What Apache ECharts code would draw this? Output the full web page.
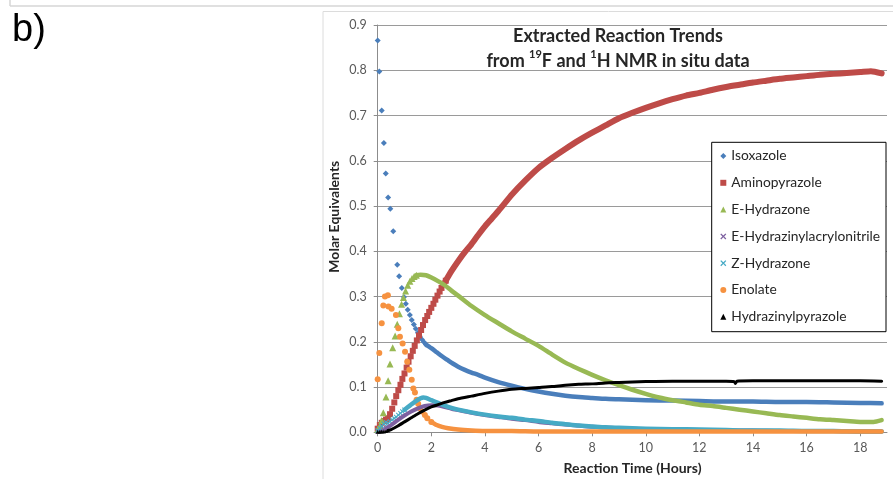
<!DOCTYPE html>
<html>
<head>
<meta charset="utf-8">
<script src="https://cdn.jsdelivr.net/npm/echarts@6/dist/echarts.min.js"></script>
<style>
  html, body { margin: 0; padding: 0; background: #ffffff; }
  #chart { width: 893px; height: 479px; }
</style>
</head>
<body>
<div id="chart"></div>
<script>
// Compound names, in legend order
const seriesNames = ['Isoxazole', 'Aminopyrazole', 'E-Hydrazone', 'E-Hydrazinylacrylonitrile', 'Z-Hydrazone', 'Enolate', 'Hydrazinylpyrazole'];

// Axis ticks
const xTickValues = [0, 2, 4, 6, 8, 10, 12, 14, 16, 18];
const yTickValues = [0, 0.1, 0.2, 0.3, 0.4, 0.5, 0.6, 0.7, 0.8, 0.9];

// [time (h), molar equivalents] - sparse early readings and the dense later trend
const isoxazoleEarly = [[0,0.866],[0.06,0.797],[0.15,0.711],[0.23,0.639],[0.30,0.572],[0.39,0.519],[0.47,0.494],[0.58,0.444],[0.73,0.370],[0.80,0.345],[0.90,0.319],[0.98,0.299],[1.05,0.284],[1.12,0.271],[1.20,0.259],[1.27,0.248],[1.35,0.238],[1.42,0.229],[1.50,0.220],[1.57,0.212],[1.65,0.205],[1.73,0.199],[1.80,0.194]];
const isoxazoleTrend = [[1.8,0.194],[2.0,0.186],[2.2,0.177],[2.4,0.168],[2.6,0.160],[2.8,0.152],[3.0,0.145],[3.25,0.138],[3.5,0.132],[3.75,0.127],[4.0,0.121],[4.5,0.111],[5.0,0.103],[5.5,0.096],[6.0,0.090],[6.5,0.085],[7.0,0.081],[7.5,0.078],[8.0,0.076],[8.5,0.074],[9.0,0.073],[9.5,0.072],[10,0.071],[11,0.070],[12,0.069],[13,0.068],[14,0.068],[15,0.067],[16,0.067],[17,0.066],[18,0.065],[18.8,0.064]];

const aminopyrazoleEarly = [[0,0.008],[0.08,0.016],[0.15,0.021],[0.23,0.025],[0.31,0.028],[0.38,0.031],[0.46,0.040],[0.54,0.052],[0.62,0.066],[0.69,0.080],[0.77,0.093],[0.85,0.105],[0.92,0.118],[1.0,0.130],[1.08,0.143],[1.15,0.156],[1.23,0.168],[1.31,0.180],[1.38,0.191],[1.46,0.203],[1.54,0.214],[1.62,0.226],[1.69,0.237],[1.77,0.248],[1.85,0.257],[1.92,0.266],[2.0,0.275],[2.08,0.284],[2.15,0.293],[2.23,0.302],[2.31,0.311],[2.38,0.319],[2.46,0.327],[2.54,0.335]];
const aminopyrazoleTrend = [[2.5,0.331],[2.75,0.356],[3.0,0.378],[3.25,0.398],[3.5,0.416],[3.75,0.436],[4.0,0.455],[4.25,0.472],[4.5,0.489],[4.75,0.507],[5.0,0.525],[5.5,0.556],[6.0,0.584],[6.5,0.606],[7.0,0.626],[7.5,0.645],[8.0,0.662],[8.5,0.678],[9.0,0.694],[9.5,0.706],[10,0.717],[10.5,0.727],[11,0.736],[11.5,0.744],[12,0.750],[12.5,0.757],[13,0.763],[13.5,0.768],[14,0.773],[14.5,0.777],[15,0.781],[15.5,0.784],[16,0.787],[16.5,0.790],[17,0.792],[17.5,0.794],[18,0.796],[18.4,0.798],[18.8,0.793]];

const eHydrazoneEarly = [[0,0.006],[0.08,0.014],[0.15,0.026],[0.21,0.043],[0.31,0.078],[0.39,0.114],[0.46,0.151],[0.56,0.187],[0.65,0.213],[0.73,0.239],[0.81,0.262],[0.89,0.283],[0.96,0.298],[1.04,0.312],[1.12,0.325],[1.20,0.334],[1.28,0.340],[1.36,0.344],[1.44,0.347]];
const eHydrazoneTrend = [[1.44,0.347],[1.6,0.348],[1.8,0.347],[2.0,0.342],[2.25,0.334],[2.5,0.325],[2.75,0.313],[3.0,0.302],[3.5,0.279],[4.0,0.259],[4.5,0.241],[5.0,0.223],[5.5,0.207],[6.0,0.191],[6.5,0.172],[7.0,0.154],[7.5,0.140],[8.0,0.127],[8.5,0.115],[9.0,0.104],[9.5,0.094],[10,0.085],[10.5,0.077],[11,0.071],[11.5,0.066],[12,0.061],[12.5,0.058],[13,0.054],[13.5,0.050],[14,0.046],[14.5,0.042],[15,0.038],[15.5,0.035],[16,0.032],[16.5,0.029],[17,0.027],[17.5,0.025],[18,0.023],[18.5,0.023],[18.8,0.027]];

const acrylonitrileEarly = [[0,0.002],[0.08,0.003],[0.15,0.004],[0.23,0.006],[0.31,0.009]];
const acrylonitrileTrend = [[0.31,0.009],[0.5,0.016],[0.75,0.027],[1.0,0.037],[1.25,0.046],[1.5,0.053],[1.75,0.058],[2.0,0.060],[2.25,0.059],[2.5,0.056],[2.75,0.052],[3.0,0.049],[3.5,0.043],[4.0,0.038],[4.5,0.034],[5.0,0.030],[5.5,0.027],[6.0,0.023],[6.5,0.020],[7.0,0.017],[8.0,0.012],[9.0,0.009],[10,0.007],[11,0.006],[12,0.005],[13,0.004],[14,0.004],[15,0.003],[16,0.003],[17,0.003],[18,0.002],[18.8,0.002]];

const zHydrazoneEarly = [[0,0.004],[0.08,0.009],[0.15,0.014],[0.23,0.019],[0.31,0.022],[0.38,0.020],[0.46,0.024],[0.54,0.028],[0.62,0.031],[0.69,0.034],[0.77,0.038],[0.85,0.042],[0.92,0.046],[1.0,0.050]];
const zHydrazoneTrend = [[1.0,0.050],[1.2,0.059],[1.4,0.068],[1.6,0.075],[1.7,0.077],[1.8,0.076],[2.0,0.071],[2.25,0.065],[2.5,0.059],[2.75,0.054],[3.0,0.050],[3.5,0.044],[4.0,0.039],[4.5,0.035],[5.0,0.032],[5.5,0.028],[6.0,0.025],[6.5,0.021],[7.0,0.018],[7.5,0.015],[8.0,0.013],[8.5,0.011],[9,0.010],[10,0.008],[11,0.007],[12,0.006],[13,0.005],[14,0.004],[15,0.004],[16,0.003],[17,0.003],[18,0.002],[18.8,0.002]];

const enolateEarly = [[0,0.117],[0.06,0.175],[0.15,0.241],[0.21,0.280],[0.27,0.300],[0.38,0.303],[0.40,0.278],[0.52,0.273],[0.68,0.259],[0.77,0.230],[0.83,0.211],[0.93,0.196],[1.02,0.178],[1.10,0.156],[1.18,0.138],[1.27,0.116],[1.33,0.097],[1.39,0.088],[1.45,0.072],[1.51,0.063],[1.57,0.053],[1.65,0.046],[1.76,0.038],[1.85,0.031],[2.0,0.023]];
const enolateTrend = [[2.0,0.023],[2.2,0.016],[2.4,0.012],[2.63,0.009],[3.0,0.006],[3.5,0.004],[4,0.003],[5,0.003],[6,0.002],[8,0.002],[10,0.002],[12,0.002],[14,0.002],[16,0.002],[18,0.002],[18.8,0.002]];

const hydrazinylpyrazoleEarly = [[0,0.001],[0.08,0.001],[0.15,0.002],[0.23,0.002],[0.31,0.003],[0.38,0.004]];
const hydrazinylpyrazoleTrend = [[0.38,0.004],[0.5,0.006],[0.75,0.014],[1.0,0.023],[1.25,0.032],[1.5,0.041],[1.75,0.049],[2.0,0.056],[2.25,0.061],[2.5,0.066],[2.75,0.070],[3.0,0.074],[3.5,0.080],[4.0,0.086],[4.5,0.091],[5.0,0.095],[5.5,0.097],[6.0,0.099],[6.5,0.101],[7.0,0.104],[7.5,0.106],[8.0,0.107],[8.5,0.109],[9.0,0.110],[9.5,0.111],[10,0.112],[11,0.113],[12,0.113],[13,0.113],[13.3,0.112],[13.35,0.108],[13.4,0.113],[14,0.114],[15,0.114],[16,0.114],[17,0.114],[18,0.114],[18.8,0.113]];

// Cross-shaped marker
const crossSymbol = 'path://M0,1.5L1.5,0L5,3.5L8.5,0L10,1.5L6.5,5L10,8.5L8.5,10L5,6.5L1.5,10L0,8.5L3.5,5Z';

const compounds = [
  { name: seriesNames[0], color: '#4a7ebb', symbol: 'diamond',  size: 6, band: 4.5, early: isoxazoleEarly, trend: isoxazoleTrend },
  { name: seriesNames[1], color: '#be4b48', symbol: 'rect',     size: 6, band: 6,   early: aminopyrazoleEarly, trend: aminopyrazoleTrend },
  { name: seriesNames[2], color: '#98b954', symbol: 'triangle', size: 7, band: 4.5, early: eHydrazoneEarly, trend: eHydrazoneTrend },
  { name: seriesNames[3], color: '#7d60a0', symbol: crossSymbol, size: 5, band: 4, early: acrylonitrileEarly, trend: acrylonitrileTrend },
  { name: seriesNames[4], color: '#46aac5', symbol: crossSymbol, size: 5, band: 4.5, early: zHydrazoneEarly, trend: zHydrazoneTrend },
  { name: seriesNames[5], color: '#f69240', symbol: 'circle',   size: 6, band: 4.5, early: enolateEarly, trend: enolateTrend },
  { name: seriesNames[6], color: '#000000', symbol: 'triangle', size: 4, band: 3, early: hydrazinylpyrazoleEarly, trend: hydrazinylpyrazoleTrend }
];

const series = [];
compounds.forEach(function (c) {
  series.push({
    type: 'line', name: c.name, data: c.trend,
    showSymbol: false, symbol: 'none', smooth: 0.2,
    lineStyle: { color: c.color, width: c.band, cap: 'round', join: 'round' },
    itemStyle: { color: c.color },
    silent: true, animation: false
  });
  series.push({
    type: 'scatter', name: c.name, data: c.early,
    symbol: c.symbol, symbolSize: c.size,
    itemStyle: { color: c.color, opacity: 1, borderWidth: 0 },
    silent: true, animation: false
  });
});

const labelFont = 'Lato, "Open Sans", sans-serif';

const option = {
  backgroundColor: '#ffffff',
  animation: false,
  grid: { left: 377.7, right: 6, top: 25, bottom: 46.7, outerBoundsMode: 'none', containLabel: false },
  xAxis: {
    type: 'value', min: 0, max: 19, interval: 2,
    axisLine: { show: true, lineStyle: { color: '#8c8c8c', width: 1 } },
    axisTick: { show: true, length: 4, inside: false, customValues: xTickValues, lineStyle: { color: '#8c8c8c' } },
    axisLabel: { customValues: xTickValues, margin: 9, color: '#595959', fontFamily: labelFont, fontSize: 12.5,
                 formatter: function (v) { return String(v); } },
    splitLine: { show: false }
  },
  yAxis: {
    type: 'value', min: 0, max: 0.9, interval: 0.1,
    axisLine: { show: true, lineStyle: { color: '#8c8c8c', width: 1 } },
    axisTick: { show: true, length: 4, inside: false, customValues: yTickValues, lineStyle: { color: '#8c8c8c' } },
    axisLabel: { customValues: yTickValues, margin: 11, color: '#595959', fontFamily: labelFont, fontSize: 12.5,
                 formatter: function (v) { return v.toFixed(1); } },
    splitLine: { show: true, lineStyle: { color: '#9a9a9a', width: 1 } }
  },
  legend: {
    orient: 'vertical', left: 720.3, top: 149, padding: 0,
    itemWidth: 6, itemHeight: 6, itemGap: 12.8,
    selectedMode: false,
    textStyle: { fontFamily: labelFont, fontSize: 13.8, color: '#262626', lineHeight: 14 },
    data: compounds.map(function (c) {
      return { name: c.name, icon: c.symbol, itemStyle: { color: c.color, borderWidth: 0 } };
    })
  },
  graphic: [
    // page and panel borders
    { type: 'line', shape: { x1: 10, y1: 6, x2: 893, y2: 6 }, style: { stroke: '#d6d6d6', lineWidth: 1.5 }, silent: true },
    { type: 'line', shape: { x1: 10, y1: 0, x2: 10, y2: 6 }, style: { stroke: '#d6d6d6', lineWidth: 1.5 }, silent: true },
    { type: 'rect', shape: { x: 323, y: 11.5, width: 620, height: 500 }, style: { fill: 'none', stroke: '#dcdcdc', lineWidth: 1 }, silent: true },
    // panel tag
    { type: 'text', x: 12, y: 12, style: { text: 'b)', font: '38px "Liberation Sans", Arial, sans-serif', fill: '#000000', align: 'left', verticalAlign: 'top' }, silent: true },
    // chart title with superscripts
    { type: 'text', x: 618, y: 24, silent: true, style: {
        text: '{a|Extracted Reaction Trends}\n{a|from }{s|19}{a|F and }{s|1}{a|H NMR in situ data}',
        align: 'center', verticalAlign: 'top',
        rich: {
          a: { fontFamily: labelFont, fontSize: 18, fontWeight: 'bold', lineHeight: 25, fill: '#262626', color: '#262626' },
          s: { fontFamily: labelFont, fontSize: 11, fontWeight: 'bold', lineHeight: 18, verticalAlign: 'top', fill: '#262626', color: '#262626' }
        }
    } },
    // axis titles
    { type: 'text', x: 334, y: 216.7, rotation: Math.PI / 2, silent: true, style: {
        text: 'Molar Equivalents', font: 'bold 14px ' + labelFont, fill: '#262626', align: 'center', verticalAlign: 'middle' } },
    { type: 'text', x: 632.5, y: 468, silent: true, style: {
        text: 'Reaction Time (Hours)', font: 'bold 14px ' + labelFont, fill: '#262626', align: 'center', verticalAlign: 'middle' } },
    // legend frame
    { type: 'rect', z: 3, shape: { x: 711.7, y: 142.3, width: 174.3, height: 189.4 }, style: { fill: '#ffffff', stroke: '#000000', lineWidth: 1 }, silent: true }
  ],
  series: series
};

const chart = echarts.init(document.getElementById('chart'), null, { renderer: 'canvas' });
chart.setOption(option);
</script>
</body>
</html>
